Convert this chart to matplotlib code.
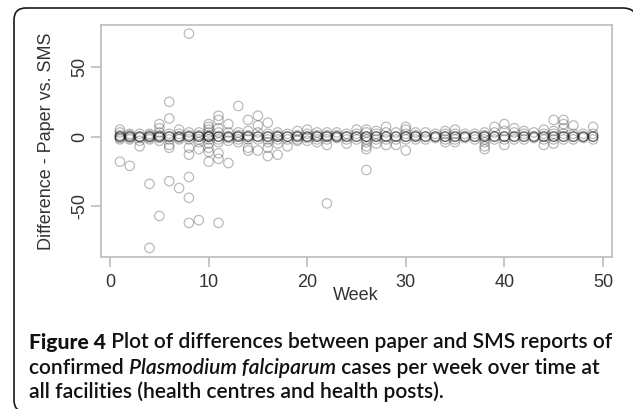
import matplotlib
matplotlib.use('Agg')
import matplotlib.pyplot as plt
from matplotlib.patches import PathPatch
from matplotlib.path import Path
from matplotlib.transforms import IdentityTransform
from matplotlib.text import Annotation

# ---------------- data ----------------
weeks = list(range(1, 50))
zero_counts = [3, 3, 3, 3, 3, 3, 3, 3, 3, 4,
               3, 3, 3, 3, 3, 3, 3, 3, 3, 3,
               3, 3, 3, 3, 3, 3, 3, 3, 3, 3,
               3, 3, 3, 3, 3, 3, 3, 3, 3, 3,
               3, 3, 3, 3, 3, 3, 3, 3, 3]
deviations = [
    [5, 3, 1, -1, -2, -18],            # 1
    [2, 1, -1, -2, -21],               # 2
    [2, -1, -3, -7],                   # 3
    [2, 1, -1, -2, -34, -80],          # 4
    [9, 6, 3, 1, -1, -3, -57],         # 5
    [25, 13, 2, -2, -6, -8, -32],      # 6
    [5, 2, -1, -2, -37],               # 7
    [74, 3, 1, -2, -8, -13, -29, -44, -62],  # 8
    [3, 1, -2, -4, -9, -60],           # 9
    [9, 7, 5, 3, 1, -2, -5, -8, -11, -18],   # 10
    [15, 12, 6, 3, -2, -4, -12, -16, -62],   # 11
    [9, 3, -1, -3, -19],               # 12
    [22, 3, 1, -2, -4],                # 13
    [12, 4, 1, -2, -8, -10],           # 14
    [15, 8, 3, -2, -10],               # 15
    [10, 2, -2, -4, -8, -14],          # 16
    [3, 1, -2, -5, -13],               # 17
    [2, -2, -7],                       # 18
    [4, 1, -2, -3],                    # 19
    [5, 2, -1, -3],                    # 20
    [3, 1, -2, -4],                    # 21
    [3, 1, -2, -6, -48],               # 22
    [3, 1, -1],                        # 23
    [2, -2, -5],                       # 24
    [5, 2, -2],                        # 25
    [5, 3, -2, -4, -7, -9, -24],       # 26
    [4, 2, -2, -5],                    # 27
    [7, 3, -2, -6],                    # 28
    [3, -2, -6],                       # 29
    [7, 5, 2, -2, -10],                # 30
    [3, 1, -2],                        # 31
    [3, -2],                           # 32
    [2, -1],                           # 33
    [4, 2, -2, -4],                    # 34
    [5, 2, -2, -4],                    # 35
    [2, -1],                           # 36
    [2, -2],                           # 37
    [3, 1, -2, -4, -7, -9],            # 38
    [7, 3, -2],                        # 39
    [9, 4, -2, -6],                    # 40
    [6, 3, -2],                        # 41
    [4, 2, -2],                        # 42
    [3, -1],                           # 43
    [5, 2, -2, -6],                    # 44
    [12, 4, 2, -2, -5],                # 45
    [12, 9, 6, 2, -2],                 # 46
    [8, 2, -2],                        # 47
    [2, -1],                           # 48
    [7, 2, -2],                        # 49
]
x_ticks = [0, 10, 20, 30, 40, 50]
y_ticks = [-50, 0, 50]
x_label = "Week"
y_label = "Difference - Paper vs. SMS"
caption_bold = "Figure 4"
caption_line1 = " Plot of differences between paper and SMS reports of"
caption_line2a = "confirmed "
caption_line2b = "Plasmodium falciparum"
caption_line2c = " cases per week over time at"
caption_line3 = "all facilities (health centres and health posts)."

# ---------------- figure ----------------
plt.rcParams['axes.unicode_minus'] = False
plt.rcParams['font.family'] = ['Liberation Sans', 'DejaVu Sans']
W, H = 633, 409
fig = plt.figure(figsize=(W / 100, H / 100), dpi=100)

ax = fig.add_axes([101 / W, 1 - 257 / H, (612 - 101) / W, (257 - 25) / H])

xs, ys = [], []
for w, nz, devs in zip(weeks, zero_counts, deviations):
    xs += [w] * nz
    ys += [0] * nz
    xs += [w] * len(devs)
    ys += list(devs)
ax.scatter(xs, ys, s=46, facecolors='none', edgecolors=(0, 0, 0, 0.27),
           linewidths=0.9)

ax.set_xlim(-0.92, 50.92)
ax.set_ylim(-86.5, 80.2)
ax.set_xticks(x_ticks)
ax.set_yticks(y_ticks)
axis_gray = '#bcbcbc'
for sp in ax.spines.values():
    sp.set_color(axis_gray)
    sp.set_linewidth(1.2)
ax.tick_params(color=axis_gray, length=7.2, width=1.2, labelsize=13,
               labelcolor='#333333', direction='out')
ax.tick_params(axis='x', pad=5)
ax.tick_params(axis='y', pad=2)
for lbl in ax.get_yticklabels():
    lbl.set_rotation(90)
    lbl.set_va('center')

fig.text(47 / W, 1 - 141 / H, y_label, rotation=90, ha='center', va='center',
         fontsize=13, color='#333333')
fig.text(356 / W, 1 - 296 / H, x_label, ha='center', va='center',
         fontsize=13, color='#333333')

# caption
bold_font = ['Lato', 'DejaVu Sans']
semi_font = ['Lato Semibold', 'Lato', 'DejaVu Sans']
cap_size = 15.1
ccol = '#111111'
cx = 29 / W
t1 = fig.text(cx, 1 - 349 / H, caption_bold, fontsize=cap_size, family=bold_font,
              weight='black', color=ccol, va='baseline', ha='left')
fig.add_artist(Annotation(caption_line1, xy=(1, 0), xycoords=t1,
               fontsize=cap_size, family=semi_font, weight='semibold', color=ccol,
               va='bottom', ha='left'))
t2a = fig.text(cx, 1 - 374 / H, caption_line2a, fontsize=cap_size, family=semi_font,
               weight='semibold', color=ccol, va='baseline', ha='left')
t2b = Annotation(caption_line2b, xy=(1, 0), xycoords=t2a,
                 fontsize=cap_size, family=semi_font, weight='semibold',
                 style='italic', color=ccol, va='bottom', ha='left')
fig.add_artist(t2b)
fig.add_artist(Annotation(caption_line2c, xy=(1, 0), xycoords=t2b,
               fontsize=cap_size, family=semi_font, weight='semibold', color=ccol,
               va='bottom', ha='left'))
fig.text(cx, 1 - 398 / H, caption_line3, fontsize=cap_size, family=semi_font,
         weight='semibold', color=ccol, va='baseline', ha='left')

# outer rounded frame (pixel coordinates, origin bottom-left): top edge with
# a top-right corner running off the canvas, left edge, bottom-left corner
top, left, right, bottom = H - 8, 14, 637, -3
r_tr, r_tl, r_bl = 14, 12, 12
verts = [(right, top - r_tr - 10), (right, top - r_tr), (right, top),
         (right - r_tr, top), (left + r_tl, top), (left, top), (left, top - r_tl),
         (left, bottom + r_bl), (left, bottom), (left + r_bl, bottom)]
codes = [Path.MOVETO, Path.LINETO, Path.CURVE3, Path.CURVE3, Path.LINETO,
         Path.CURVE3, Path.CURVE3, Path.LINETO, Path.CURVE3, Path.CURVE3]
frame = PathPatch(Path(verts, codes), transform=IdentityTransform(),
                  facecolor='none', edgecolor='#1a1a1a', linewidth=1.2,
                  clip_on=False)
fig.add_artist(frame)

fig.savefig('out.png', dpi=100)
